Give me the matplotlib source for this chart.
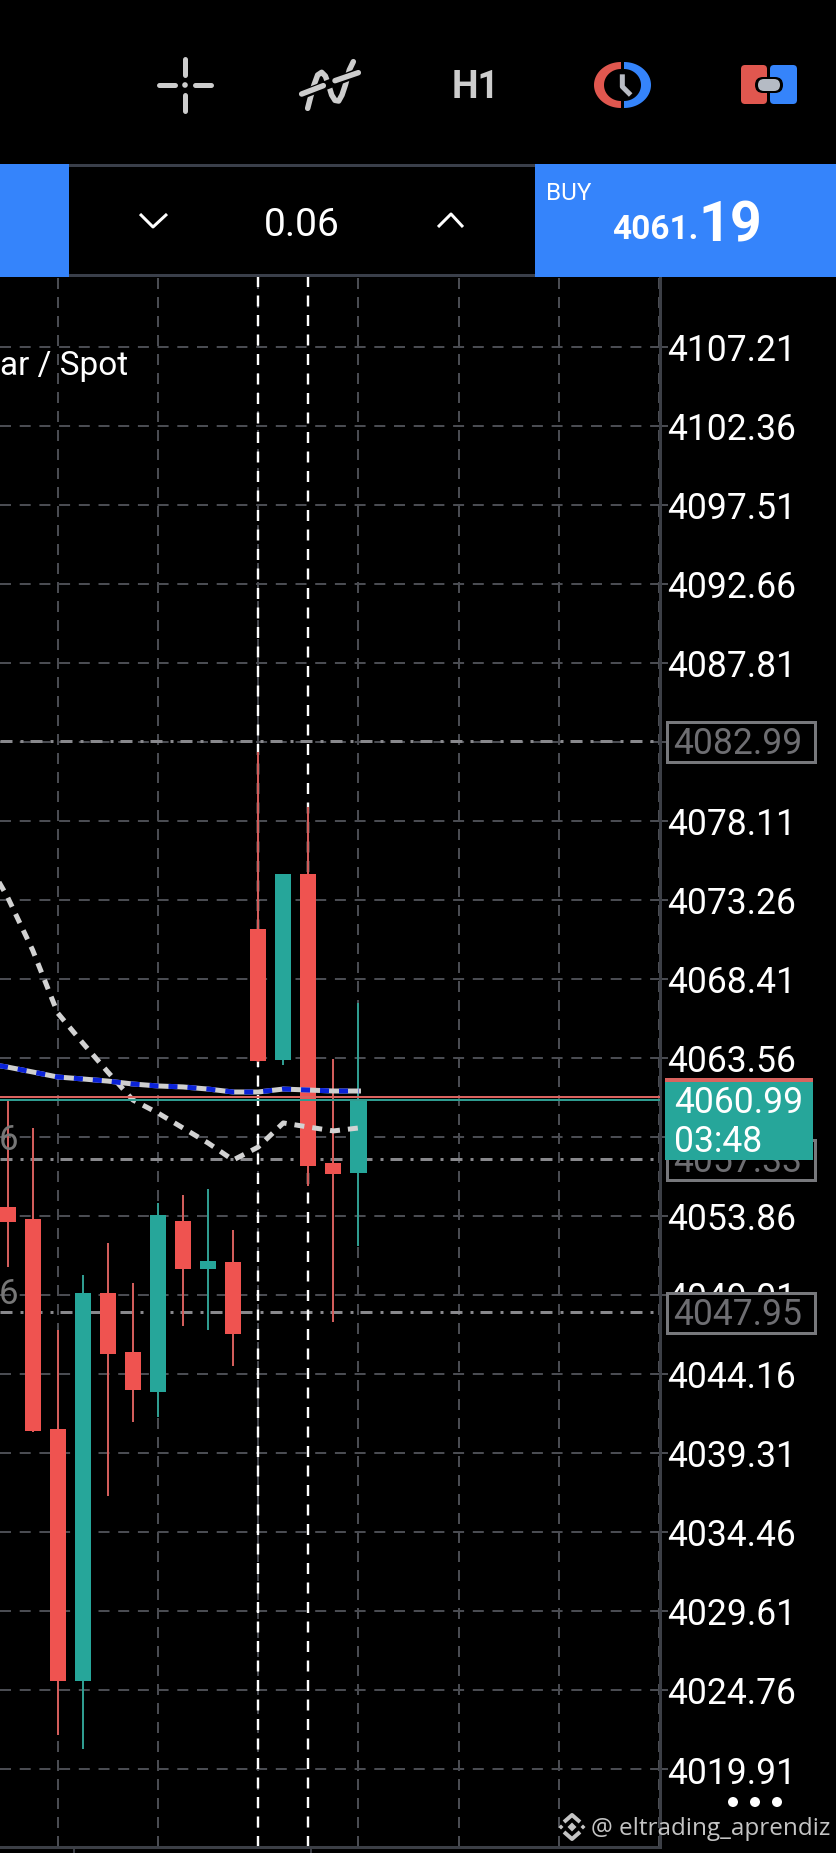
import numpy as np
import matplotlib
matplotlib.use("Agg")
import matplotlib.pyplot as plt
from matplotlib.patches import Rectangle, FancyBboxPatch, Polygon, Circle
from matplotlib.transforms import ScaledTranslation

# ---------- data ----------
high  = [4060.98, 4059.26, 4046.86, 4050.24, 4052.20, 4049.74, 4054.66, 4055.15, 4055.51, 4053.00, 4082.34, 4074.85, 4078.96, 4063.49, 4066.93]
low   = [4050.73, 4040.60, 4022.00, 4021.14, 4036.67, 4041.21, 4041.52, 4047.10, 4046.86, 4044.65, 4063.31, 4063.13, 4055.70, 4047.35, 4052.02]
body_top = [4054.41, 4053.67, 4040.78, 4049.13, 4049.13, 4045.51, 4053.92, 4053.55, 4051.09, 4051.03, 4071.48, 4074.85, 4074.85, 4057.11, 4060.99]
body_bot = [4053.49, 4040.66, 4025.31, 4025.31, 4045.39, 4043.18, 4043.05, 4050.60, 4050.60, 4046.61, 4063.37, 4063.43, 4056.93, 4056.44, 4056.50]
rising = [False, False, False, True, False, False, True, False, True, False, False, True, False, False, True]
ma_blue = [4063.25, 4063.00, 4062.70, 4062.39, 4062.27, 4062.14, 4061.96, 4061.84, 4061.78, 4061.65, 4061.47, 4061.47, 4061.65, 4061.59, 4061.53, 4061.53]
ma_gray = [4076.14, 4073.44, 4070.19, 4066.32, 4064.48, 4062.70, 4060.98, 4060.18, 4059.26, 4058.34, 4057.29, 4058.09, 4059.57, 4059.32, 4059.08, 4059.26]
ma_x = list(range(-1, 15))
axis_ticks = [4107.21, 4102.36, 4097.51, 4092.66, 4087.81, 4082.96, 4078.11, 4073.26, 4068.41, 4063.56, 4058.71,
              4053.86, 4049.01, 4044.16, 4039.31, 4034.46, 4029.61, 4024.76, 4019.91]
axis_labels = ["4107.21", "4102.36", "4097.51", "4092.66", "4087.81", "", "4078.11", "4073.26", "4068.41", "4063.56", "",
               "4053.86", "4049.01", "4044.16", "4039.31", "4034.46", "4029.61", "4024.76", "4019.91"]
levels = [4082.99, 4057.33, 4047.95]
level_labels = ["4082.99", "4057.33", "4047.95"]
bid, ask = 4060.99, 4061.19
grid_bars = [2, 6, 10, 14, 18, 22, 26]
marker_bars = [10, 12]
time_ticks = [2.65, 12.11]

# ---------- styling ----------
W, H = 837, 1853
PX = 0.72
RED, TEAL, BLUE = "#EF5350", "#26A69A", "#3584FB"
WICK_RED, WICK_TEAL = "#d25d5b", "#2f9c90"
GRID, FRAME = "#4a4c52", "#3c3f46"
plt.rcParams["lines.scale_dashes"] = False
plt.rcParams["font.family"] = ["Roboto", "DejaVu Sans"]
LABEL_PT = 25.6
dash = lambda on, off, *rest: (0, tuple(v * PX for v in (on, off) + rest))

fig = plt.figure(figsize=(W / 100, H / 100), dpi=100, facecolor="black")

# chart axes: pixel box 0..660 x 277..1847
L, R, T, B = 0, 660, 277, 1847
ax = fig.add_axes([L / W, 1 - B / H, (R - L) / W, (B - T) / H], facecolor="black")
x0, dx = 7.5, 25.07
y_ref, p_ref, scale = 1769, 4019.91, 16.29
ax.set_xlim((L - x0) / dx, (R - x0) / dx)
ax.set_ylim(p_ref + (y_ref - B) / scale, p_ref + (y_ref - T) / scale)
py = lambda p: y_ref - (p - p_ref) * scale

for s in ("top", "left"):
    ax.spines[s].set_visible(False)
for s in ("right", "bottom"):
    ax.spines[s].set_color(FRAME)
    ax.spines[s].set_linewidth(3 * PX)
ax.yaxis.tick_right()
ax.set_yticks(axis_ticks, axis_labels, fontsize=LABEL_PT, color="white")
ax.tick_params(axis="y", length=8 * PX, width=2 * PX, color=GRID, pad=0.8, labelcolor="white")
shift = ScaledTranslation(-2 / 100, -0.5 / 100, fig.dpi_scale_trans)
for lab in ax.get_yticklabels():
    lab.set_transform(lab.get_transform() + shift)
ax.set_xticks(time_ticks, ["", ""])
ax.tick_params(axis="x", length=6 * PX, width=2 * PX, color=FRAME)

for t in axis_ticks:
    ax.axhline(t, color=GRID, lw=2 * PX, ls=dash(11, 8.7), zorder=1)
for b in grid_bars:
    ax.axvline(b, color=GRID, lw=2 * PX, ls=dash(11, 8), zorder=1, clip_on=False)
for lv in levels:
    ax.axhline(lv, color="#88888c", lw=3 * PX, ls=dash(12, 8, 3, 7), zorder=2)
for b in marker_bars:
    ax.axvline(b, color="white", lw=2.4 * PX, ls=dash(11, 8.5), zorder=2)

for i in range(len(high)):
    ax.vlines(i, low[i], high[i], color=WICK_TEAL if rising[i] else WICK_RED, lw=2 * PX, zorder=3)
    ax.bar(i, body_top[i] - body_bot[i], bottom=body_bot[i], width=0.64,
           color=TEAL if rising[i] else RED, lw=0, zorder=4)

ax.plot(ma_x, ma_gray, color="#d2d2d2", lw=5 * PX, ls=dash(10, 8), zorder=5)
ax.plot(ma_x, ma_blue, color="#cfcfcf", lw=5 * PX, zorder=5)
ax.plot(ma_x, ma_blue, color="#0a22d8", lw=5 * PX, ls=dash(9, 10), zorder=6)
ax.axhline(ask, color="#d9635f", lw=2 * PX, zorder=6)
ax.axhline(bid, color="#2f9c90", lw=2 * PX, zorder=6)

# ---------- overlay in pixel coordinates ----------
ov = fig.add_axes([0, 0, 1, 1], facecolor="none")
ov.set_xlim(0, W)
ov.set_ylim(H, 0)
ov.axis("off")

def rect(x0, y0, x1, y1, **kw):
    ov.add_patch(Rectangle((x0, y0), x1 - x0, y1 - y0, lw=kw.pop("lw", 0), **kw))

def rrect(x0, y0, x1, y1, r, **kw):
    ov.add_patch(FancyBboxPatch((x0, y0), x1 - x0, y1 - y0, boxstyle=f"round,pad=0,rounding_size={r}", lw=0, **kw))

def line(xs, ys, color, w, cap="round", z=5):
    ov.plot(xs, ys, color=color, lw=w * PX, solid_capstyle=cap, solid_joinstyle="round", zorder=z)

# order ticket band
rect(0, 164, 69, 277, color=BLUE)
rect(535, 164, W, 277, color=BLUE)
rect(69, 164, 535, 277, color="black")
rect(69, 164, 535, 167, color="#3a3f4a")
rect(69, 274, 535, 277, color="#3a3f4a")
line([140, 153, 167], [214, 227, 214], "white", 3, cap="butt")
line([438, 451, 463], [227, 214, 227], "white", 3, cap="butt")
ov.text(302, 226, "0.06", color="white", fontsize=28, ha="center", va="center")
ov.text(546, 200, "BUY", color="white", fontsize=17.5, ha="left", va="baseline")
ov.text(698, 239, "4061.", color="white", fontsize=24, weight="bold", ha="right", va="baseline")
ov.text(698, 241, "19", color="white", fontsize=40, weight="bold", ha="left", va="baseline")

# top icons
ICON = "#cdcdcd"
line([185, 185], [59, 75], ICON, 5)
line([185, 185], [95, 111], ICON, 5)
line([159, 175], [85, 85], ICON, 5)
line([195, 211], [85, 85], ICON, 5)
ov.add_patch(Circle((185, 85), 2.8, color=ICON, lw=0))

ix = lambda v: 140 + np.array(v) / 3
iy = lambda v: 40 + np.array(v) / 3
cx = [503, 512, 522, 533, 545, 556, 566, 575, 585, 596, 606, 616, 628, 640]
cy = [205, 170, 135, 105, 97, 108, 135, 165, 181, 183, 165, 135, 90, 65]
line(ix(cx), iy(cy), ICON, 5.5, z=5)
line(ix([480, 660]), iy([166, 96]), "black", 9, cap="butt", z=6)
line(ix([485, 550]), iy([162, 137]), ICON, 5.5, z=7)
line(ix([585, 655]), iy([122, 98]), ICON, 5.5, z=7)
ov.text(475.5, 98.5, "H1", color=ICON, fontsize=27, weight="bold", ha="center", va="baseline")

def half_ring(cx, cy, rx, ry, irx, iry, side, color):
    t = np.linspace(-np.pi / 2, np.pi / 2, 60)
    xo, yo = cx + side * rx * np.cos(t), cy + ry * np.sin(t)
    xi, yi = cx + side * irx * np.cos(t[::-1]), cy + iry * np.sin(t[::-1])
    ov.add_patch(Polygon(np.c_[np.r_[xo, xi], np.r_[yo, yi]], closed=True, color=color, lw=0))

half_ring(621, 85, 27, 23, 17, 16, -1, "#E0574F")
half_ring(624, 85, 27, 23, 17, 16, 1, BLUE)
line(ix([1447, 1447, 1472]), iy([103, 140, 165]), "#b9bcc4", 5, cap="butt")

rrect(741, 65, 767, 104, 4, color="#E0574F")
rrect(770, 65, 797, 104, 4, color=BLUE)
rrect(755, 77, 783, 93, 8, color="black", zorder=4)
rrect(758, 79, 780, 91, 6, color="#b5bbc4", zorder=5)

# chart title fragment and clipped labels
ov.text(128, 375, "ar / Spot", color="white", fontsize=24, ha="right", va="baseline")
ov.text(18, 1140, "6", color="#777777", fontsize=25, ha="right", va="center")
ov.text(18, 1294, "6", color="#777777", fontsize=25, ha="right", va="center")

# level boxes
for lv, lab in zip(levels, level_labels):
    y = py(lv) + 1
    rect(667, y - 20, 815, y + 20, facecolor="black", edgecolor="#77787c", lw=3 * PX, zorder=6)
    ov.text(673, y + 2, lab, color="#6e6e72", fontsize=LABEL_PT, ha="left", va="center", zorder=7)

# current price tag
rect(665, 1078, 813, 1082, color="#d9635f", zorder=8)
rect(665, 1082, 813, 1160, color=TEAL, zorder=8)
ov.text(674, 1103, f"{bid:.2f}", color="white", fontsize=LABEL_PT, ha="left", va="center", zorder=9)
ov.text(674, 1142, "03:48", color="white", fontsize=LABEL_PT, ha="left", va="center", zorder=9)

# menu dots
for x in (733, 755, 777):
    ov.add_patch(Circle((x, 1802), 5, color="white", lw=0))

# watermark
WM = "#c4c4c4"
ov.text(591, 1835, "@ eltrading_aprendiz", color=WM, fontsize=17.5, family="Open Sans", ha="left", va="baseline", zorder=9)
for (mx, my, r) in [(572, 1827, 4.5), (561, 1827, 2.5), (583, 1827, 2.5)]:
    ov.add_patch(Polygon([(mx - r, my), (mx, my - r), (mx + r, my), (mx, my + r)], closed=True, color=WM, lw=0, zorder=9))
line([564, 572, 580], [1822, 1815, 1822], WM, 4, cap="butt", z=9)
line([564, 572, 580], [1832, 1839, 1832], WM, 4, cap="butt", z=9)

fig.savefig("out.png", dpi=100, facecolor="black")
